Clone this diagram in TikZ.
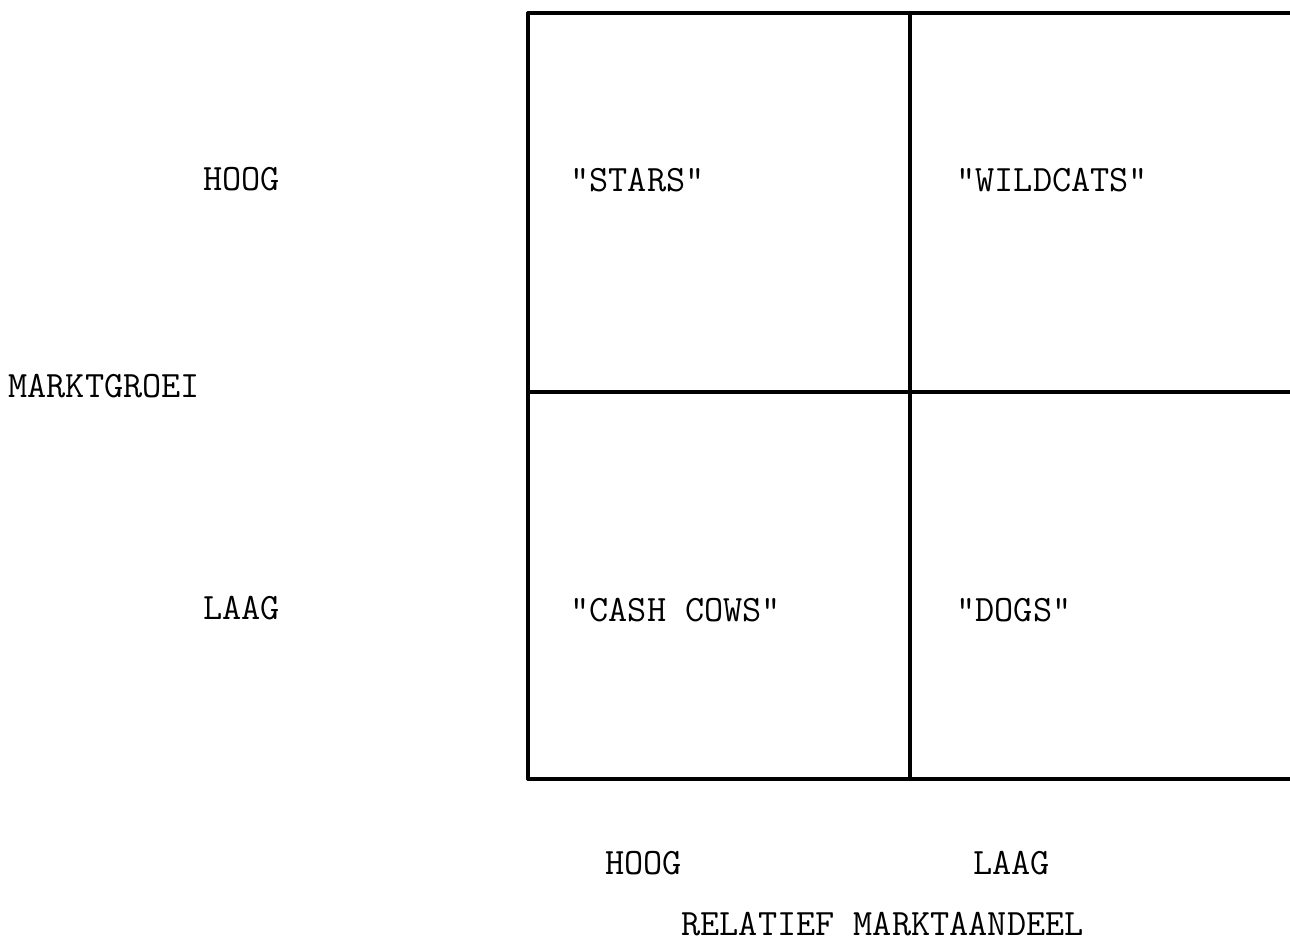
\documentclass[tikz,border=0pt]{standalone}
\usepackage{fontspec}
\begin{document}
\begin{tikzpicture}[x=0.5pt,y=-0.5pt,
  grid/.style={line width=1.6pt,line cap=round},
  lbl/.style={anchor=west,inner sep=0pt,font=\fontsize{18.6}{20}\selectfont\ttfamily}]
\useasboundingbox (0,0) rectangle (1290,941);
% grid corners
\coordinate (tl) at (528,13);
\coordinate (tm) at (910,13);
\coordinate (tr) at (1290,13);
\coordinate (ml) at (528,392);
\coordinate (mr) at (1290,392);
\coordinate (bl) at (528,779);
\coordinate (bm) at (910,779);
\coordinate (br) at (1290,779);
\draw[grid] (tl) -- (tr);
\draw[grid] (ml) -- (mr);
\draw[grid] (bl) -- (br);
\draw[grid] (tl) -- (bl);
\draw[grid] (tm) -- (bm);
% labels
\node[lbl] (hoogL) at (203,179) {HOOG};
\node[lbl] (markt) at (8,386) {MARKTGROEI};
\node[lbl] (laagL) at (203,608) {LAAG};
\node[lbl] (stars) at (570,180) {"STARS"};
\node[lbl] (wild) at (956,180) {"WILDCATS"};
\node[lbl] (cash) at (570,610) {"CASH COWS"};
\node[lbl] (dogs) at (956,610) {"DOGS"};
\node[lbl] (hoogB) at (605,863) {HOOG};
\node[lbl] (laagB) at (973,863) {LAAG};
\node[lbl] (rel) at (681,924) {RELATIEF MARKTAANDEEL};
\end{tikzpicture}
\end{document}
